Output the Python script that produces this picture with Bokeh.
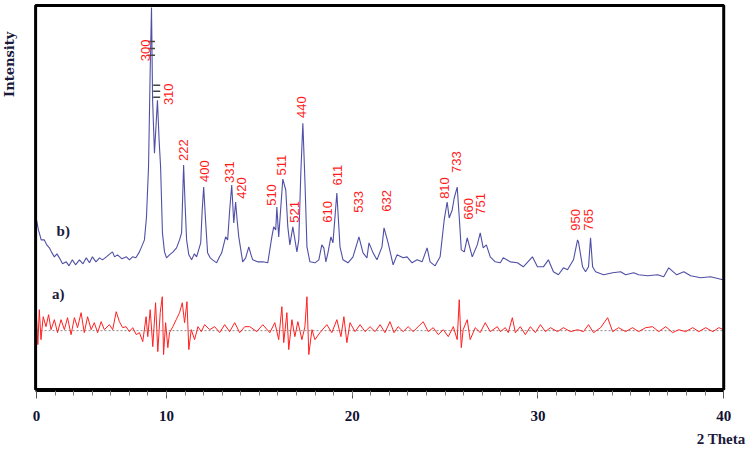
import math
from bokeh.plotting import figure
from bokeh.models import Range1d, FixedTicker, Title, BoxAnnotation
from bokeh.embed import file_html
from bokeh.resources import INLINE
from bokeh.core.properties import value

# ---- pattern b) (blue) : 2 theta vs intensity (arb. units) ----
two_theta_b = [3.00, 3.10, 3.15, 3.25, 3.42, 3.55, 3.69, 3.80, 3.96, 4.10, 4.23, 4.40, 4.60, 4.75,
               4.93, 5.10, 5.31, 5.50, 5.68, 5.85, 6.01, 6.20, 6.39, 6.55, 6.76, 6.95, 7.09, 7.20,
               7.36, 7.60, 7.84, 8.00, 8.17, 8.35, 8.54, 8.70, 8.81, 8.92, 9.03, 9.12, 9.19, 9.25,
               9.35, 9.45, 9.51, 9.60, 9.68, 9.78, 9.89, 10.00, 10.16, 10.35, 10.54, 10.70, 10.81,
               10.92, 11.00, 11.08, 11.20, 11.35, 11.50, 11.62, 11.84, 11.92, 12.00, 12.10, 12.21,
               12.35, 12.48, 12.70, 12.85, 12.97, 13.18, 13.29, 13.40, 13.51, 13.62, 13.72, 13.80,
               13.89, 14.10, 14.26, 14.43, 14.55, 14.64, 14.91, 15.18, 15.45, 15.67, 15.77, 15.88,
               15.94, 16.04, 16.26, 16.42, 16.53, 16.64, 16.80, 17.02, 17.12, 17.23, 17.34, 17.45,
               17.56, 17.72, 17.99, 18.20, 18.36, 18.47, 18.58, 18.69, 18.85, 18.96, 19.17, 19.34,
               19.50, 19.77, 20.04, 20.36, 20.58, 20.79, 20.90, 21.12, 21.33, 21.60, 21.71, 21.93,
               22.20, 22.41, 22.74, 22.95, 23.22, 23.49, 23.76, 24.03, 24.19, 24.46, 24.73, 24.95,
               25.11, 25.22, 25.38, 25.49, 25.65, 25.76, 25.87, 26.03, 26.19, 26.46, 26.73, 26.89,
               27.05, 27.22, 27.43, 27.70, 27.97, 28.13, 28.51, 28.89, 29.21, 29.70, 29.97, 30.29,
               30.56, 30.83, 31.10, 31.37, 31.59, 31.91, 32.13, 32.18, 32.40, 32.56, 32.72, 32.83,
               32.94, 33.10, 33.53, 34.02, 34.45, 34.72, 35.15, 35.42, 35.90, 36.44, 36.77, 37.04,
               37.47, 37.85, 38.22, 38.76, 39.30, 39.95]
intensity_b = [170, 160, 157, 150, 150, 145, 142, 138, 133, 136, 132, 126, 128, 124,
               130, 125, 130, 126, 132, 127, 133, 128, 132, 130, 133, 136, 138, 133,
               135, 131, 133, 130, 133, 132, 138, 145, 150, 173, 223, 320, 383, 290,
               237, 270, 290, 250, 223, 157, 138, 132, 135, 138, 142, 150, 157,
               225, 185, 150, 135, 130, 136, 133, 147, 180, 203, 170, 137,
               132, 130, 127, 133, 137, 153, 150, 180, 205, 167, 188, 170,
               153, 128, 132, 143, 135, 130, 128, 128, 127, 153, 163, 160,
               183, 153, 211, 200, 163, 145, 163, 138, 150, 217, 267, 210,
               143, 128, 127, 130, 145, 142, 128, 137, 153, 147, 197, 143,
               130, 127, 133, 153, 137, 132, 147, 137, 130, 143, 162, 147,
               125, 135, 132, 133, 127, 130, 128, 142, 128, 124, 133, 170,
               188, 172, 180, 192, 203, 173, 140, 138, 152, 133, 145, 157,
               142, 145, 133, 128, 127, 132, 128, 127, 123, 133, 123, 123,
               130, 118, 115, 122, 120, 130, 150, 148, 123, 118, 123, 152,
               123, 118, 115, 117, 118, 115, 117, 115, 114, 115, 113, 122,
               115, 118, 114, 112, 113, 110]

# ---- pattern a) (red) ----
two_theta_a = [3.00, 3.07, 3.15, 3.24, 3.36, 3.51, 3.65, 3.78, 3.96, 4.13, 4.32, 4.50, 4.67, 4.86,
               5.04, 5.21, 5.40, 5.57, 5.75, 5.94, 6.11, 6.29, 6.48, 6.65, 6.92, 7.10, 7.29, 7.46,
               7.64, 7.82, 8.00, 8.18, 8.37, 8.54, 8.72, 8.90, 8.99, 9.12, 9.26, 9.41, 9.53, 9.66,
               9.77, 9.84, 9.95, 10.07, 10.16, 10.34, 10.52, 10.70, 10.85, 10.97, 11.10, 11.20,
               11.33, 11.51, 11.69, 11.87, 12.05, 12.32, 12.59, 12.86, 13.13, 13.40, 13.67, 13.94,
               14.21, 14.48, 14.86, 15.18, 15.56, 15.83, 16.04, 16.21, 16.31, 16.48, 16.58, 16.75,
               16.91, 17.07, 17.29, 17.45, 17.56, 17.66, 17.83, 17.99, 18.26, 18.63, 18.90, 19.17,
               19.39, 19.55, 19.71, 19.88, 20.15, 20.42, 20.69, 20.96, 21.23, 21.50, 21.76, 22.03,
               22.25, 22.47, 22.74, 23.01, 23.28, 23.55, 23.82, 24.09, 24.36, 24.63, 24.90, 25.17,
               25.44, 25.65, 25.76, 25.87, 25.97, 26.19, 26.35, 26.62, 26.89, 27.16, 27.43, 27.81,
               27.97, 28.24, 28.40, 28.62, 28.78, 29.05, 29.32, 29.59, 29.86, 30.13, 30.40, 30.67,
               31.05, 31.37, 31.75, 32.13, 32.45, 32.72, 32.99, 33.37, 33.75, 34.02, 34.34, 34.72,
               35.09, 35.42, 35.80, 36.17, 36.50, 36.88, 37.25, 37.58, 37.95, 38.33, 38.66, 39.03,
               39.41, 39.74, 40.00]
intensity_a = [72, 45, 80, 50, 73, 63, 75, 60, 70, 57, 70, 60, 72, 55,
               72, 62, 77, 57, 73, 60, 67, 57, 68, 60, 65, 60, 78, 68,
               62, 63, 58, 62, 55, 57, 48, 73, 53, 80, 43, 87, 38, 77,
               93, 35, 67, 42, 57, 63, 70, 77, 87, 67, 88, 40,
               60, 50, 63, 58, 65, 60, 63, 57, 65, 58, 67, 57,
               63, 63, 58, 65, 57, 67, 50, 83, 47, 77, 40, 70,
               53, 68, 50, 63, 93, 35, 60, 50, 57, 65, 57, 70,
               53, 73, 47, 67, 58, 65, 58, 63, 58, 65, 57, 68,
               57, 63, 58, 63, 58, 63, 68, 58, 62, 55, 60, 53,
               63, 50, 90, 42, 60, 70, 50, 62, 57, 67, 58, 63,
               58, 62, 57, 72, 57, 63, 55, 63, 57, 65, 58, 62,
               58, 62, 58, 60, 58, 65, 57, 62, 72, 58, 62, 58,
               62, 58, 62, 63, 58, 63, 57, 60, 58, 62, 58, 62,
               58, 62, 60]
baseline_a = 59

# ---- reflection (hkl) labels ----
peak_labels = ["300", "310", "222", "400", "331", "420", "510", "511", "521", "440",
               "610", "611", "533", "632", "810", "733", "660", "751", "950", "765"]
peak_label_x = [8.87, 10.11, 10.92, 12.05, 13.40, 14.05, 15.67, 16.21, 16.91, 17.29,
                18.64, 19.18, 20.36, 21.87, 24.95, 25.60, 26.24, 26.89, 32.02, 32.72]
peak_label_y = [340, 296, 240, 219, 218, 202, 195, 225, 178, 283,
                178, 215, 188, 189, 202, 228, 181, 186, 170, 170]

# small peak-position markers near the two strongest reflections
marker_x = [9.19, 9.19, 9.19, 9.47, 9.47, 9.47]
marker_y = [349, 342, 335, 305, 299, 293]

series_names = ["b)", "a)"]
series_name_x = [4.44, 4.17]
series_name_y = [159, 96]

x_ticks = [3, 10, 20, 30, 40]
x_tick_labels = {3: "0"}
x_minor = list(range(4, 40))
x_start, x_end = 2.95, 40.0          # extent of the boxed plotting area
y_top = 385

p = figure(width=749, height=451, x_range=Range1d(1.06, 40.15), y_range=Range1d(-1, 388),
           output_backend="svg", toolbar_location=None,
           min_border_left=0, min_border_right=23, min_border_top=2, min_border_bottom=55)
p.background_fill_color = "white"
p.border_fill_color = "white"
p.outline_line_color = None
p.xgrid.visible = False
p.ygrid.visible = False
p.yaxis.visible = False

# frame box
p.add_layout(BoxAnnotation(left=x_start, right=x_end, bottom=0, top=y_top,
                           fill_alpha=0, line_color="black", line_alpha=1.0, line_width=3))

ax = p.xaxis[0]
ax.bounds = (x_start, x_end)
ax.ticker = FixedTicker(ticks=x_ticks, minor_ticks=x_minor)
ax.major_label_overrides = x_tick_labels
ax.axis_line_color = "black"
ax.axis_line_width = 3
ax.major_tick_out = 8
ax.major_tick_in = 0
ax.minor_tick_out = 5
ax.minor_tick_in = 0
ax.major_tick_line_color = "#555555"
ax.minor_tick_line_color = "#777777"
ax.major_label_text_font = "Liberation Serif"
ax.major_label_text_font_style = "bold"
ax.major_label_text_font_size = "15px"
ax.major_label_text_color = "#111133"
ax.major_label_standoff = 12

# dotted zero line of the red pattern
p.line([two_theta_a[0], two_theta_a[-1]], [baseline_a, baseline_a], line_color="#8a8a8a",
       line_dash="2 2", line_width=1)

p.line(two_theta_a, intensity_a, line_color="#ff2020", line_width=1)
p.line(two_theta_b, intensity_b, line_color="#3c3c9c", line_width=1.1, line_alpha=0.9)

p.scatter(marker_x, marker_y, marker="dash", size=7, line_color="#444444", line_width=1.5)

p.text(x=peak_label_x, y=peak_label_y, text=peak_labels, angle=math.pi / 2,
       text_align="center", text_baseline="middle", text_color="#ff1a1a",
       text_font=value("Liberation Sans"), text_font_size="13px")

p.text(x=series_name_x, y=series_name_y, text=series_names, text_align="center",
       text_baseline="middle", text_color="#1a1a3a", text_font=value("Liberation Serif"),
       text_font_style="bold", text_font_size="15px")

# y-axis title, left of the box, near its top
p.text(x=[1.54], y=[326], text=["Intensity"], angle=math.pi / 2, text_align="center",
       text_baseline="middle", text_color="#1a1a3a", text_font=value("DejaVu Serif"),
       text_font_style="bold", text_font_size="13px")

p.add_layout(Title(text="2 Theta", align="right", offset=-19, text_font="Liberation Serif",
                   text_font_style="bold", text_font_size="15px", text_color="#1a1a3a"), "below")

open("out.html", "w").write(file_html(p, INLINE))
